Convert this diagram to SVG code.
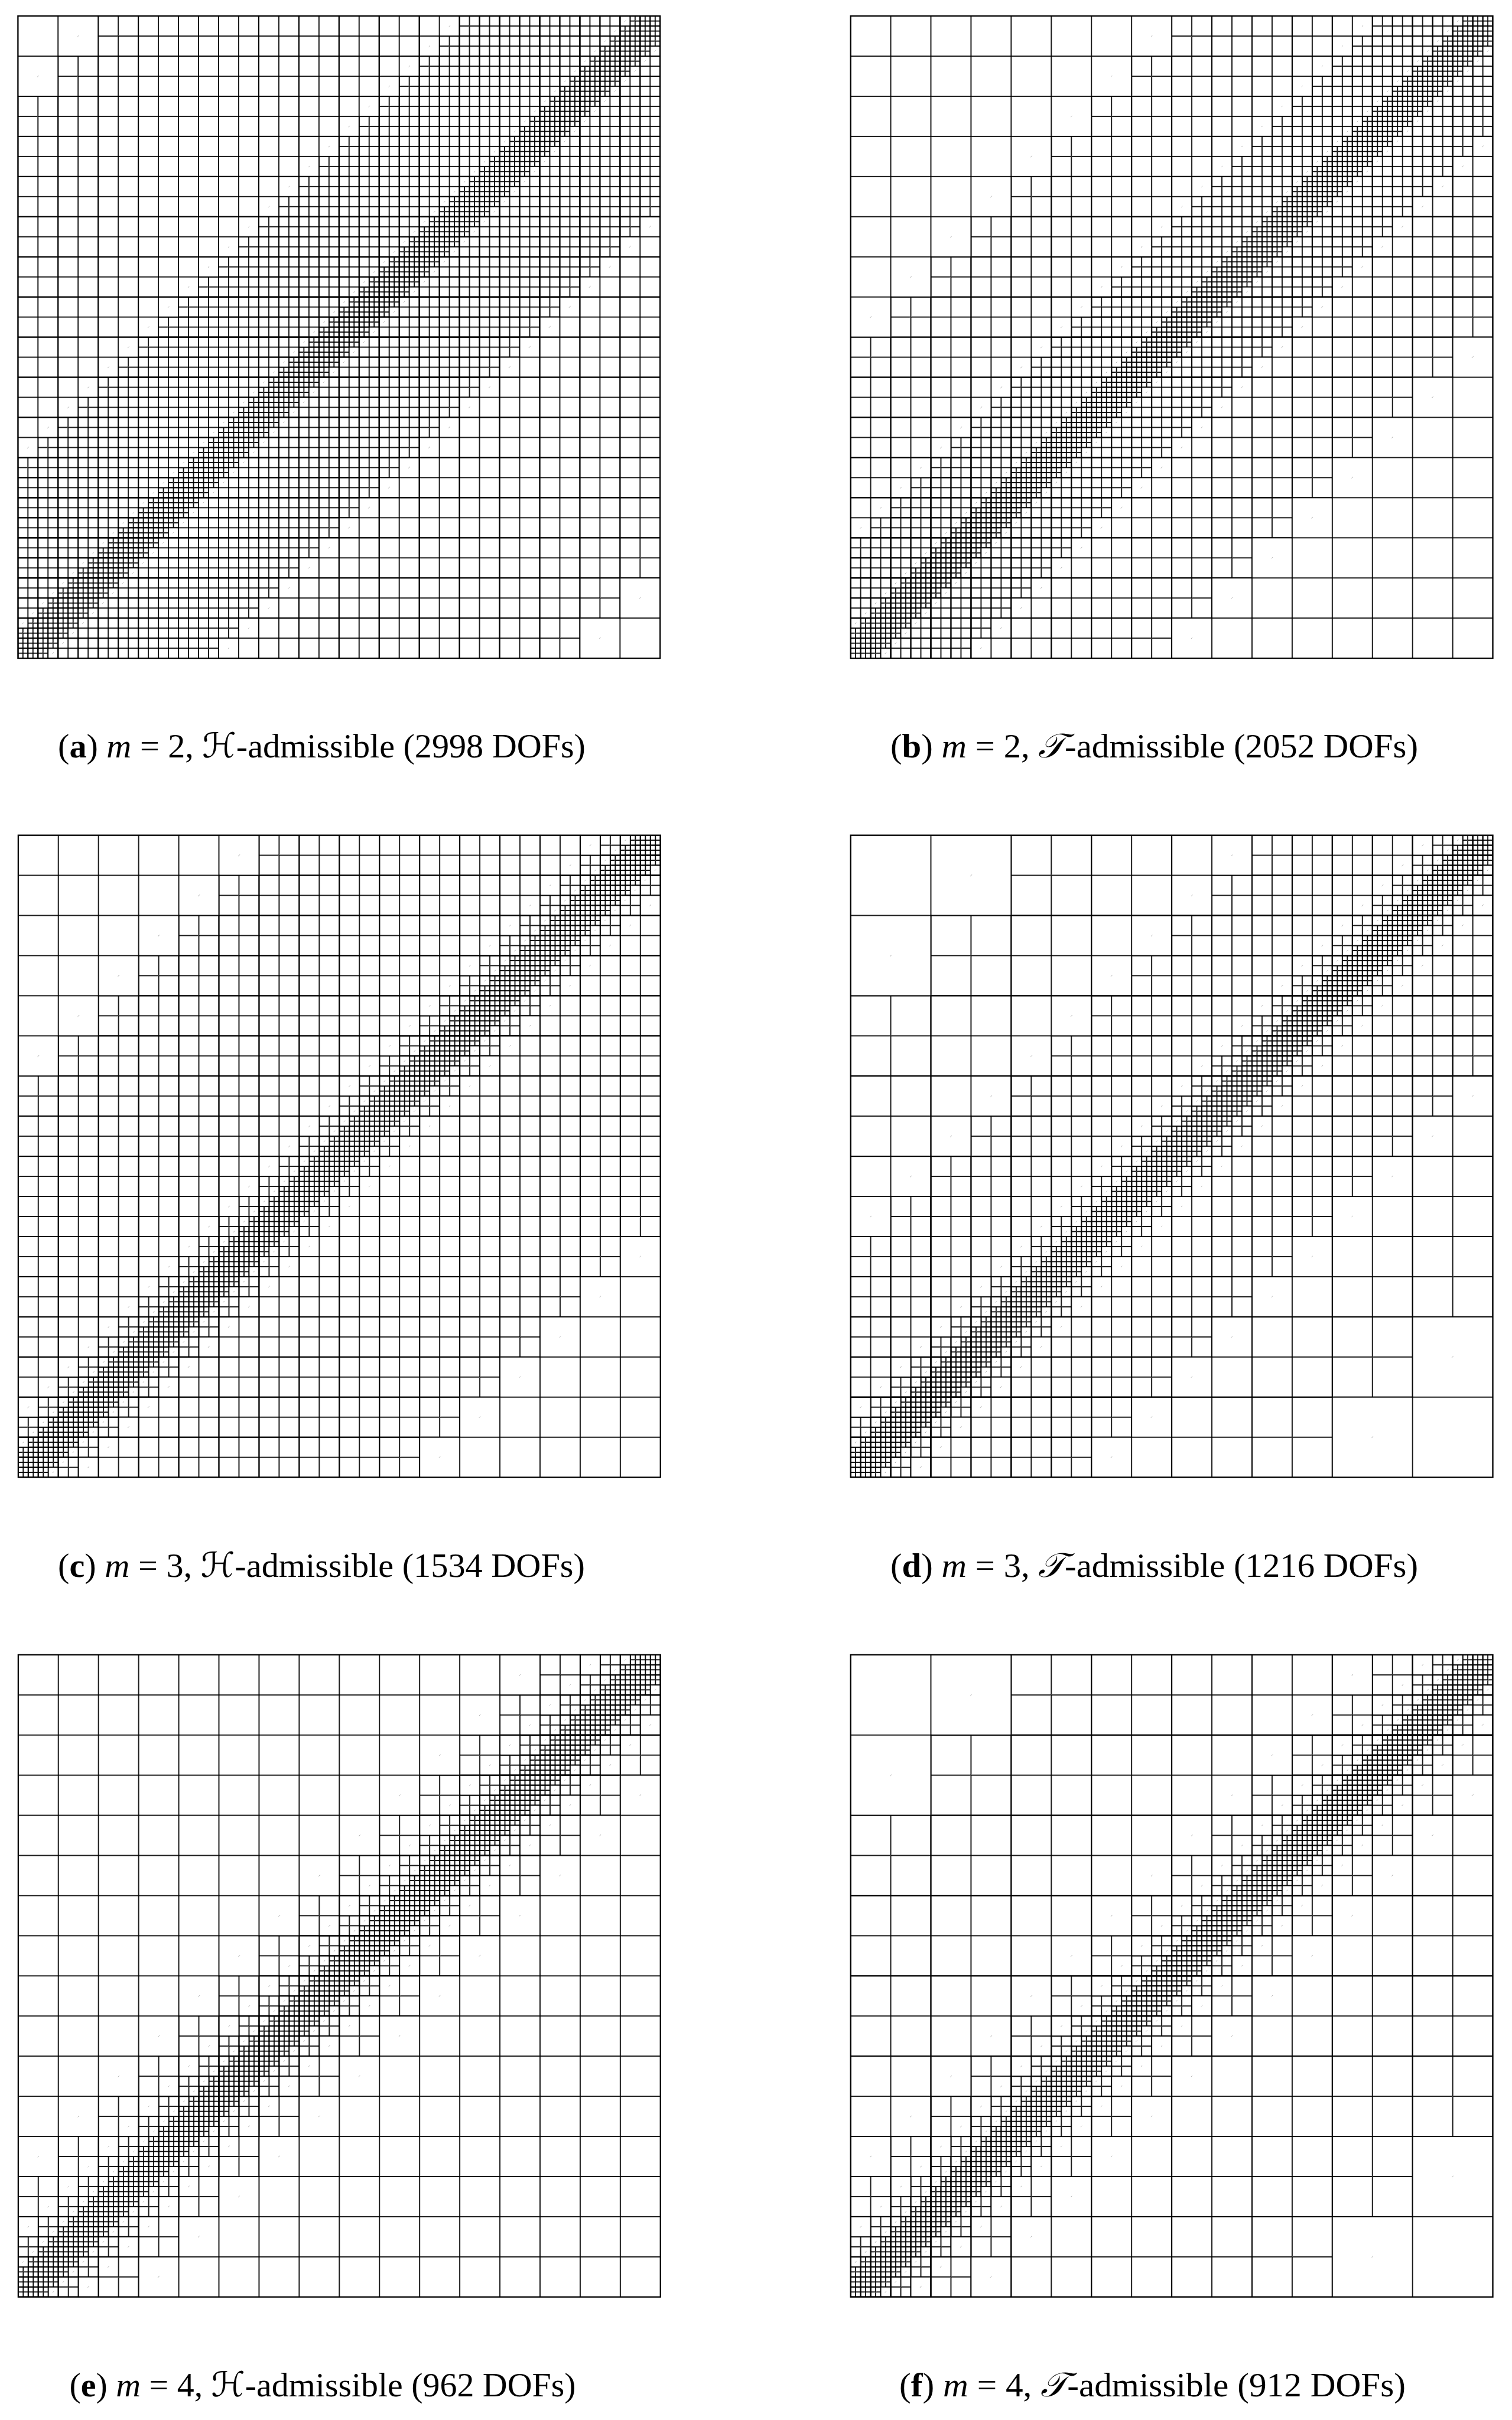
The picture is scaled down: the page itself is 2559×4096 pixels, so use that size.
<svg xmlns="http://www.w3.org/2000/svg" width="2559" height="4096" viewBox="0 0 2559 4096">
<style>
.cap{font-family:"Liberation Serif","DejaVu Serif",serif;font-size:58px;fill:#000}
.scr{font-family:"DejaVu Serif","DejaVu Sans",serif;font-style:italic}
.gl{fill:none;stroke:#000;stroke-width:0.42}
.frame{fill:none;stroke:#000;stroke-width:0.5}
</style>
<defs>
<pattern id="g8" patternUnits="userSpaceOnUse" width="32" height="32"><rect class="gl" width="32" height="32"/></pattern>
<pattern id="g16" patternUnits="userSpaceOnUse" width="16" height="16"><rect class="gl" width="16" height="16"/></pattern>
<pattern id="g32" patternUnits="userSpaceOnUse" width="8" height="8"><rect class="gl" width="8" height="8"/></pattern>
<pattern id="g64" patternUnits="userSpaceOnUse" width="4" height="4"><rect class="gl" width="4" height="4"/></pattern>
<pattern id="g128" patternUnits="userSpaceOnUse" width="2" height="2"><rect class="gl" width="2" height="2"/></pattern>
<pattern id="ul32" patternUnits="userSpaceOnUse" width="32" height="32"><path d="M0 0H32L0 32Z" fill="#fff"/></pattern>
<pattern id="lr32" patternUnits="userSpaceOnUse" width="32" height="32"><path d="M32 0V32H0Z" fill="#fff"/></pattern>
<pattern id="ul16" patternUnits="userSpaceOnUse" width="16" height="16"><path d="M0 0H16L0 16Z" fill="#fff"/></pattern>
<pattern id="lr16" patternUnits="userSpaceOnUse" width="16" height="16"><path d="M16 0V16H0Z" fill="#fff"/></pattern>
<pattern id="ul8" patternUnits="userSpaceOnUse" width="8" height="8"><path d="M0 0H8L0 8Z" fill="#fff"/></pattern>
<pattern id="lr8" patternUnits="userSpaceOnUse" width="8" height="8"><path d="M8 0V8H0Z" fill="#fff"/></pattern>
<pattern id="ul4" patternUnits="userSpaceOnUse" width="4" height="4"><path d="M0 0H4L0 4Z" fill="#fff"/></pattern>
<pattern id="lr4" patternUnits="userSpaceOnUse" width="4" height="4"><path d="M4 0V4H0Z" fill="#fff"/></pattern>

<mask id="m_a32" maskUnits="userSpaceOnUse" x="-2" y="-2" width="260" height="260">
<polygon fill="#fff" points="-10,58 266,-218 266,198 -10,474"/>
<polygon fill="url(#ul16)" points="-10,42 266,-234 266,-202 -10,74"/>
<polygon fill="url(#lr16)" points="-10,458 266,182 266,214 -10,490"/>
</mask>
<mask id="m_a64" maskUnits="userSpaceOnUse" x="-2" y="-2" width="260" height="260">
<polygon fill="#fff" points="-10,194 266,-82 266,62 -10,338"/>
<polygon fill="url(#ul8)" points="-10,186 266,-90 266,-74 -10,202"/>
<polygon fill="url(#lr8)" points="-10,330 266,54 266,70 -10,346"/>
</mask>
<mask id="m_b32" maskUnits="userSpaceOnUse" x="-2" y="-2" width="260" height="260">
<polygon fill="#fff" points="-10,154 266,-122 266,102 -10,378"/>
<polygon fill="url(#ul16)" points="-10,138 266,-138 266,-106 -10,170"/>
<polygon fill="url(#lr16)" points="-10,362 266,86 266,118 -10,394"/>
</mask>
<mask id="m_b64" maskUnits="userSpaceOnUse" x="-2" y="-2" width="260" height="260">
<polygon fill="#fff" points="-10,226 266,-50 266,30 -10,306"/>
<polygon fill="url(#ul8)" points="-10,218 266,-58 266,-42 -10,234"/>
<polygon fill="url(#lr8)" points="-10,298 266,22 266,38 -10,314"/>
</mask>
<mask id="m_c32" maskUnits="userSpaceOnUse" x="-2" y="-2" width="260" height="260">
<polygon fill="#fff" points="-10,122 266,-154 266,134 -10,410"/>
<polygon fill="url(#ul16)" points="-10,106 266,-170 266,-138 -10,138"/>
<polygon fill="url(#lr16)" points="-10,394 266,118 266,150 -10,426"/>
</mask>
<mask id="m_d16" maskUnits="userSpaceOnUse" x="-2" y="-2" width="260" height="260">
<polygon fill="#fff" points="-10,106 266,-170 266,150 -10,426"/>
<polygon fill="url(#ul32)" points="-10,74 266,-202 266,-138 -10,138"/>
<polygon fill="url(#lr32)" points="-10,394 266,118 266,182 -10,458"/>
</mask>
<mask id="m_d32" maskUnits="userSpaceOnUse" x="-2" y="-2" width="260" height="260">
<polygon fill="#fff" points="-10,186 266,-90 266,70 -10,346"/>
<polygon fill="url(#ul16)" points="-10,170 266,-106 266,-74 -10,202"/>
<polygon fill="url(#lr16)" points="-10,330 266,54 266,86 -10,362"/>
</mask>
<mask id="m_e32" maskUnits="userSpaceOnUse" x="-2" y="-2" width="260" height="260">
<polygon fill="#fff" points="-10,234 266,-42 266,22 -10,298"/>
<polygon fill="url(#ul16)" points="-10,218 266,-58 266,-26 -10,250"/>
<polygon fill="url(#lr16)" points="-10,282 266,6 266,38 -10,314"/>
</mask>
<mask id="m_64" maskUnits="userSpaceOnUse" x="-2" y="-2" width="260" height="260">
<polygon fill="#fff" points="-10,250 266,-26 266,6 -10,282"/>
<polygon fill="url(#ul8)" points="-10,242 266,-34 266,-18 -10,258"/>
<polygon fill="url(#lr8)" points="-10,274 266,-2 266,14 -10,290"/>
</mask>
<mask id="m_128" maskUnits="userSpaceOnUse" x="-2" y="-2" width="260" height="260">
<polygon fill="#fff" points="-10,258 266,-18 266,-2 -10,274"/>
<polygon fill="url(#ul4)" points="-10,254 266,-22 266,-14 -10,262"/>
<polygon fill="url(#lr4)" points="-10,270 266,-6 266,2 -10,278"/>
</mask>
</defs>

<rect width="2559" height="4096" fill="#fff"/>

<g id="panel-a" transform="translate(30.3,27.1) scale(4.2461)">
<rect width="256" height="256" fill="url(#g16)"/>
<rect width="256" height="256" fill="url(#g32)" mask="url(#m_a32)"/>
<rect width="256" height="256" fill="url(#g64)" mask="url(#m_a64)"/>
<rect width="256" height="256" fill="url(#g128)" mask="url(#m_128)"/>
<rect class="frame" width="256" height="256"/>
</g>

<g id="panel-b" transform="translate(1439.6,27.1) scale(4.2461)">
<rect width="256" height="256" fill="url(#g16)"/>
<rect width="256" height="256" fill="url(#g32)" mask="url(#m_b32)"/>
<rect width="256" height="256" fill="url(#g64)" mask="url(#m_b64)"/>
<rect width="256" height="256" fill="url(#g128)" mask="url(#m_128)"/>
<rect class="frame" width="256" height="256"/>
</g>

<g id="panel-c" transform="translate(30.8,1413.6) scale(4.2461)">
<rect width="256" height="256" fill="url(#g16)"/>
<rect width="256" height="256" fill="url(#g32)" mask="url(#m_c32)"/>
<rect width="256" height="256" fill="url(#g64)" mask="url(#m_64)"/>
<rect width="256" height="256" fill="url(#g128)" mask="url(#m_128)"/>
<rect class="frame" width="256" height="256"/>
</g>

<g id="panel-d" transform="translate(1439.6,1413.6) scale(4.2461)">
<rect width="256" height="256" fill="url(#g8)"/>
<rect width="256" height="256" fill="url(#g16)" mask="url(#m_d16)"/>
<rect width="256" height="256" fill="url(#g32)" mask="url(#m_d32)"/>
<rect width="256" height="256" fill="url(#g64)" mask="url(#m_64)"/>
<rect width="256" height="256" fill="url(#g128)" mask="url(#m_128)"/>
<rect class="frame" width="256" height="256"/>
</g>

<g id="panel-e" transform="translate(30.8,2800.8) scale(4.2461)">
<rect width="256" height="256" fill="url(#g16)"/>
<rect width="256" height="256" fill="url(#g32)" mask="url(#m_e32)"/>
<rect width="256" height="256" fill="url(#g64)" mask="url(#m_64)"/>
<rect width="256" height="256" fill="url(#g128)" mask="url(#m_128)"/>
<rect class="frame" width="256" height="256"/>
</g>

<g id="panel-f" transform="translate(1439.6,2800.8) scale(4.2461)">
<rect width="256" height="256" fill="url(#g8)"/>
<rect width="256" height="256" fill="url(#g16)" mask="url(#m_d16)"/>
<rect width="256" height="256" fill="url(#g32)" mask="url(#m_e32)"/>
<rect width="256" height="256" fill="url(#g64)" mask="url(#m_64)"/>
<rect width="256" height="256" fill="url(#g128)" mask="url(#m_128)"/>
<rect class="frame" width="256" height="256"/>
</g>

<g id="captions">
<text id="cap-a" class="cap" x="98" y="1282" textLength="893" lengthAdjust="spacingAndGlyphs">(<tspan font-weight="bold">a</tspan>) <tspan font-style="italic">m</tspan> = 2, <tspan class="scr">ℋ</tspan>-admissible (2998 DOFs)</text>
<text id="cap-b" class="cap" x="1507" y="1282" textLength="893" lengthAdjust="spacingAndGlyphs">(<tspan font-weight="bold">b</tspan>) <tspan font-style="italic">m</tspan> = 2, <tspan class="scr">𝒯</tspan>-admissible (2052 DOFs)</text>
<text id="cap-c" class="cap" x="98" y="2669" textLength="892" lengthAdjust="spacingAndGlyphs">(<tspan font-weight="bold">c</tspan>) <tspan font-style="italic">m</tspan> = 3, <tspan class="scr">ℋ</tspan>-admissible (1534 DOFs)</text>
<text id="cap-d" class="cap" x="1507" y="2669" textLength="893" lengthAdjust="spacingAndGlyphs">(<tspan font-weight="bold">d</tspan>) <tspan font-style="italic">m</tspan> = 3, <tspan class="scr">𝒯</tspan>-admissible (1216 DOFs)</text>
<text id="cap-e" class="cap" x="117.5" y="4056" textLength="857" lengthAdjust="spacingAndGlyphs">(<tspan font-weight="bold">e</tspan>) <tspan font-style="italic">m</tspan> = 4, <tspan class="scr">ℋ</tspan>-admissible (962 DOFs)</text>
<text id="cap-f" class="cap" x="1522" y="4056" textLength="857" lengthAdjust="spacingAndGlyphs">(<tspan font-weight="bold">f</tspan>) <tspan font-style="italic">m</tspan> = 4, <tspan class="scr">𝒯</tspan>-admissible (912 DOFs)</text>
</g>
</svg>
